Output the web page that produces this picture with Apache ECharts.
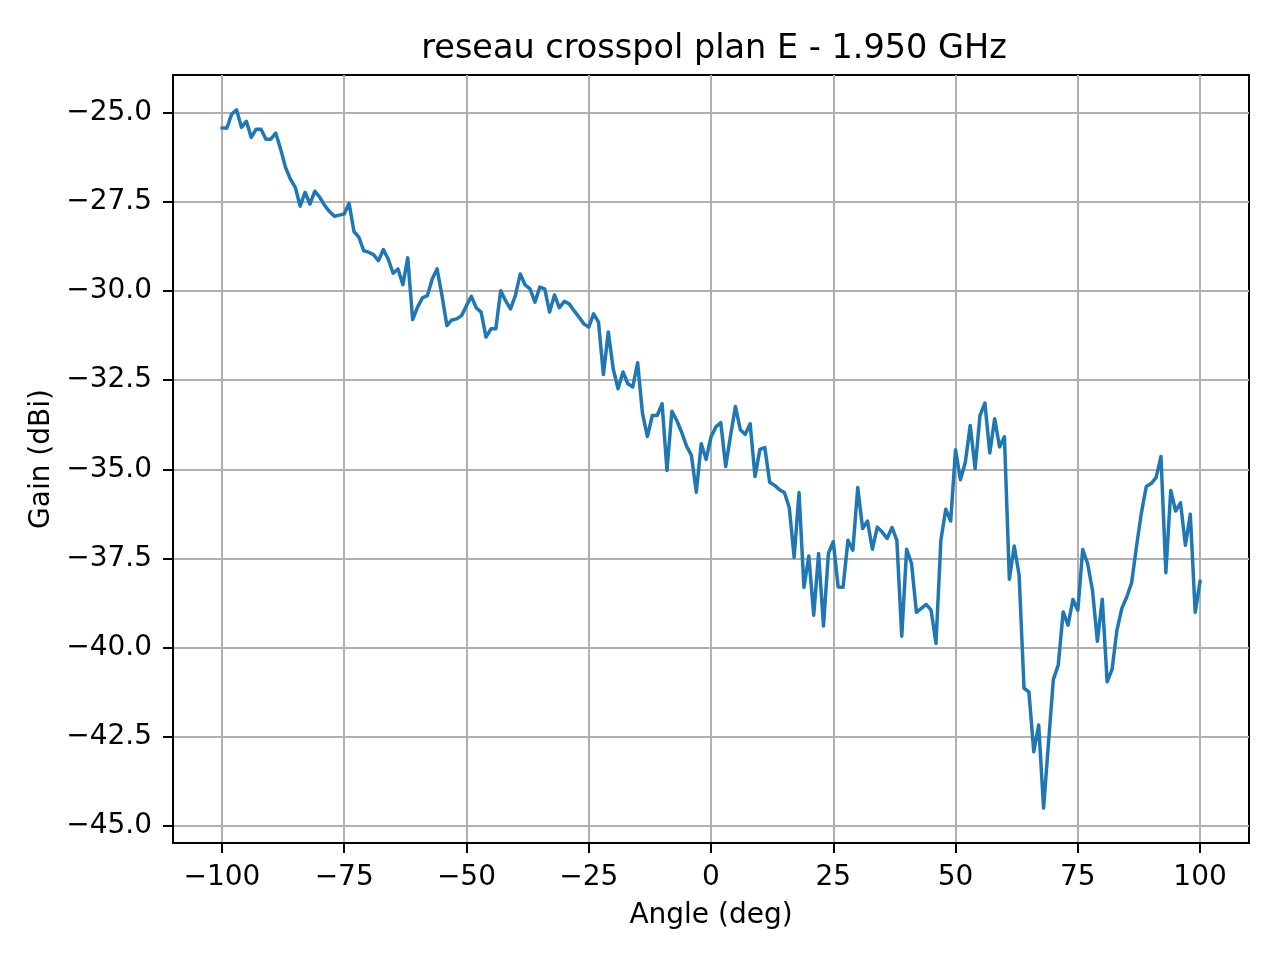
<!DOCTYPE html>
<html>
<head>
<meta charset="utf-8">
<title>reseau crosspol plan E - 1.950 GHz</title>
<script src="https://cdn.jsdelivr.net/npm/echarts@6/dist/echarts.min.js"></script>
<style>
  html, body { margin: 0; padding: 0; background: #fff; }
  #chart { width: 1280px; height: 960px; }
</style>
</head>
<body>
<div id="chart"></div>
<script>
// measurement angles (deg)
const angleDeg = [
  -100, -99, -98, -97, -96, -95, -94, -93, -92, -91, -90, -89, -88, -87, -86, -85, -84, -83, -82, -81,
  -80, -79, -78, -77, -76, -75, -74, -73, -72, -71, -70, -69, -68, -67, -66, -65, -64, -63, -62, -61,
  -60, -59, -58, -57, -56, -55, -54, -53, -52, -51, -50, -49, -48, -47, -46, -45, -44, -43, -42, -41,
  -40, -39, -38, -37, -36, -35, -34, -33, -32, -31, -30, -29, -28, -27, -26, -25, -24, -23, -22, -21,
  -20, -19, -18, -17, -16, -15, -14, -13, -12, -11, -10, -9, -8, -7, -6, -5, -4, -3, -2, -1,
  0, 1, 2, 3, 4, 5, 6, 7, 8, 9, 10, 11, 12, 13, 14, 15, 16, 17, 18, 19,
  20, 21, 22, 23, 24, 25, 26, 27, 28, 29, 30, 31, 32, 33, 34, 35, 36, 37, 38, 39,
  40, 41, 42, 43, 44, 45, 46, 47, 48, 49, 50, 51, 52, 53, 54, 55, 56, 57, 58, 59,
  60, 61, 62, 63, 64, 65, 66, 67, 68, 69, 70, 71, 72, 73, 74, 75, 76, 77, 78, 79,
  80, 81, 82, 83, 84, 85, 86, 87, 88, 89, 90, 91, 92, 93, 94, 95, 96, 97, 98, 99,
  100
];

// crosspol gain (dBi)
const gainDbi = [
  -25.43, -25.43, -25.04, -24.92, -25.41, -25.24, -25.69, -25.46, -25.46, -25.74,
  -25.74, -25.57, -26.02, -26.53, -26.86, -27.09, -27.62, -27.23, -27.56, -27.20,
  -27.37, -27.60, -27.77, -27.90, -27.87, -27.84, -27.54, -28.33, -28.49, -28.87,
  -28.91, -28.98, -29.15, -28.84, -29.10, -29.50, -29.38, -29.82, -29.07, -30.80,
  -30.45, -30.19, -30.13, -29.66, -29.38, -30.13, -30.97, -30.81, -30.78, -30.69,
  -30.41, -30.15, -30.47, -30.59, -31.29, -31.06, -31.06, -29.99, -30.27, -30.50,
  -30.13, -29.52, -29.83, -29.94, -30.31, -29.89, -29.94, -30.59, -30.11, -30.47,
  -30.29, -30.36, -30.55, -30.73, -30.92, -31.01, -30.64, -30.87, -32.34, -31.15,
  -32.18, -32.74, -32.27, -32.60, -32.69, -32.01, -33.44, -34.08, -33.49, -33.49,
  -33.16, -35.03, -33.37, -33.63, -33.96, -34.35, -34.61, -35.64, -34.28, -34.72,
  -34.09, -33.81, -33.69, -34.92, -34.05, -33.24, -33.89, -34.02, -33.72, -35.20,
  -34.44, -34.39, -35.36, -35.45, -35.57, -35.65, -36.07, -37.47, -35.65, -38.31,
  -37.43, -39.09, -37.36, -39.39, -37.36, -37.03, -38.30, -38.31, -36.99, -37.27,
  -35.51, -36.66, -36.45, -37.24, -36.62, -36.76, -36.94, -36.63, -36.99, -39.68,
  -37.24, -37.64, -39.01, -38.90, -38.79, -38.95, -39.88, -36.99, -36.12, -36.45,
  -34.45, -35.29, -34.80, -33.77, -34.98, -33.49, -33.14, -34.54, -33.58, -34.37,
  -34.09, -38.08, -37.15, -37.97, -41.14, -41.24, -42.92, -42.17, -44.50, -42.68,
  -40.89, -40.49, -39.00, -39.37, -38.65, -38.95, -37.25, -37.64, -38.39, -39.82,
  -38.64, -40.96, -40.61, -39.51, -38.90, -38.58, -38.18, -37.16, -36.22, -35.48,
  -35.40, -35.23, -34.64, -37.90, -35.59, -36.17, -35.94, -37.13, -36.26, -39.01,
  -38.13
];

const xTicks = [-100, -75, -50, -25, 0, 25, 50, 75, 100];
const yTicks = [-45, -42.5, -40, -37.5, -35, -32.5, -30, -27.5, -25];

// axis limits like matplotlib autoscale (5% margin)
const xMin = -110, xMax = 110;
const yMin = -45.479, yMax = -23.941;

const FONT = 'DejaVu Sans';
const minus = (s) => s.replace('-', '\u2212');

const chart = echarts.init(document.getElementById('chart'), null, { renderer: 'canvas' });

const option = {
  backgroundColor: '#ffffff',
  animation: false,
  title: {
    text: 'reseau crosspol plan E - 1.950 GHz',
    left: 709,
    top: 27,
    textAlign: 'center',
    textStyle: { fontFamily: FONT, fontSize: 33.5, fontWeight: 'normal', color: '#000' }
  },
  grid: {
    left: 173,
    top: 75,
    width: 1076,
    height: 768,
    show: true,
    borderColor: '#000',
    borderWidth: 2,
    containLabel: false
  },
  xAxis: {
    type: 'value',
    min: xMin,
    max: xMax,
    name: 'Angle (deg)',
    nameLocation: 'middle',
    nameGap: 59,
    nameTextStyle: { fontFamily: FONT, fontSize: 28, color: '#000' },
    axisLine: { show: true, onZero: false, lineStyle: { color: '#000', width: 2 } },
    axisTick: {
      show: true, inside: false, length: 10,
      customValues: xTicks,
      lineStyle: { color: '#000', width: 2 }
    },
    axisLabel: {
      customValues: xTicks,
      margin: 21,
      fontFamily: FONT, fontSize: 28, color: '#000',
      formatter: (v) => minus(String(v))
    },
    splitLine: { show: true, lineStyle: { color: '#b0b0b0', width: 2 } }
  },
  yAxis: {
    type: 'value',
    min: yMin,
    max: yMax,
    name: 'Gain (dBi)',
    nameLocation: 'middle',
    nameGap: 115,
    nameRotate: 90,
    nameTextStyle: { fontFamily: FONT, fontSize: 28, color: '#000' },
    axisLine: { show: true, onZero: false, lineStyle: { color: '#000', width: 2 } },
    axisTick: {
      show: true, inside: false, length: 10,
      customValues: yTicks,
      lineStyle: { color: '#000', width: 2 }
    },
    axisLabel: {
      customValues: yTicks,
      margin: 21,
      fontFamily: FONT, fontSize: 28, color: '#000',
      formatter: (v) => minus(v.toFixed(1))
    },
    splitLine: { show: true, lineStyle: { color: '#b0b0b0', width: 2 } }
  },
  series: [
    {
      type: 'line',
      data: angleDeg.map((a, i) => [a, gainDbi[i]]),
      showSymbol: false,
      symbol: 'none',
      lineStyle: { color: '#1f77b4', width: 3.5, join: 'round', cap: 'round' },
      itemStyle: { color: '#1f77b4' }
    }
  ]
};

chart.setOption(option);
</script>
</body>
</html>
